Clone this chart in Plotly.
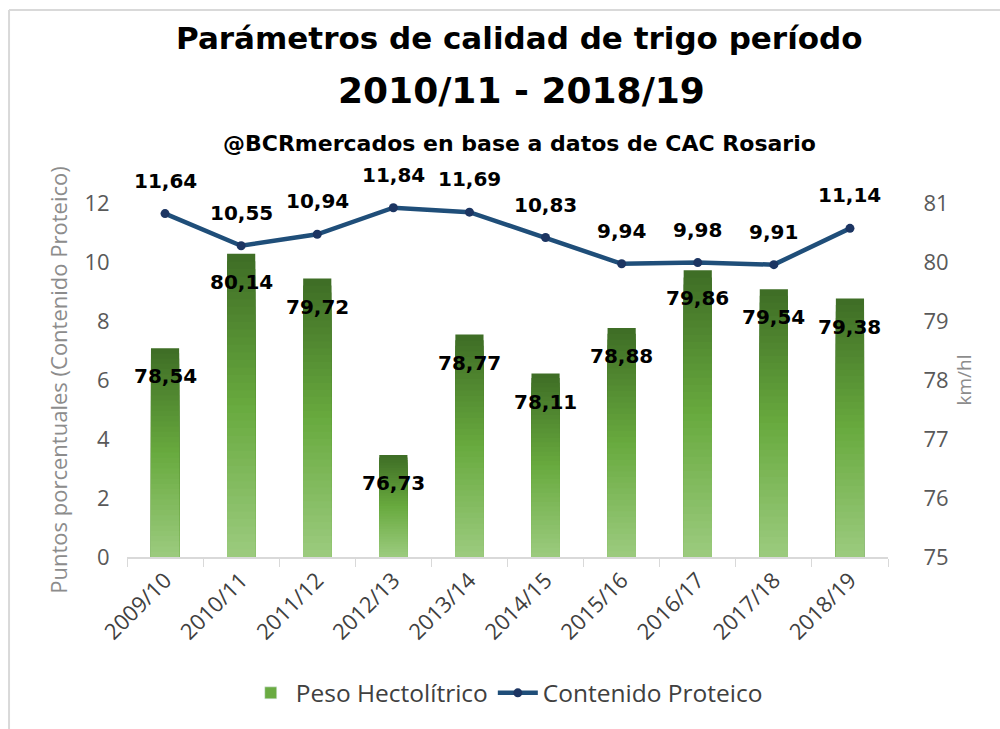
import plotly.graph_objects as go

categories = ["2009/10", "2010/11", "2011/12", "2012/13", "2013/14",
              "2014/15", "2015/16", "2016/17", "2017/18", "2018/19"]
peso_hectolitrico = [78.54, 80.14, 79.72, 76.73, 78.77, 78.11, 78.88, 79.86, 79.54, 79.38]
contenido_proteico = [11.64, 10.55, 10.94, 11.84, 11.69, 10.83, 9.94, 9.98, 9.91, 11.14]
left_ticks = [0, 2, 4, 6, 8, 10, 12]
right_ticks = [75, 76, 77, 78, 79, 80, 81]

RIGHT_MIN, RIGHT_MAX = 75, 81
LEFT_MIN, LEFT_MAX = 0, 12


def fmt(v):
    return f"{v:.2f}".replace(".", ",")


def hex_to_rgb(h):
    h = h.lstrip("#")
    return tuple(int(h[i:i + 2], 16) for i in (0, 2, 4))


# gradient stops: bottom -> top
stops = [(0.0, "#9ccb7f"), (0.5, "#68aa3e"), (1.0, "#3e6c25")]


def grad_color(t):
    for (t0, c0), (t1, c1) in zip(stops[:-1], stops[1:]):
        if t0 <= t <= t1:
            f = (t - t0) / (t1 - t0)
            a, b = hex_to_rgb(c0), hex_to_rgb(c1)
            r = [round(a[i] + (b[i] - a[i]) * f) for i in range(3)]
            return f"rgb({r[0]},{r[1]},{r[2]})"
    return stops[-1][1]


fig = go.Figure()

# legend entry for the bars
fig.add_trace(go.Bar(
    x=categories, y=[None] * len(categories), name="Peso Hectolítrico",
    marker=dict(color="#6aab42"), yaxis="y", showlegend=True,
))

N = 40
for k in range(N):
    frac = 1 - k / N
    mid = 1 - (k + 0.5) / N
    fig.add_trace(go.Bar(
        x=categories,
        y=[RIGHT_MIN + (v - RIGHT_MIN) * frac for v in peso_hectolitrico],
        marker=dict(color=grad_color(mid), line=dict(width=0)),
        yaxis="y", showlegend=False, hoverinfo="skip",
    ))

fig.add_trace(go.Scatter(
    x=categories, y=contenido_proteico, name="Contenido Proteico",
    mode="lines+markers", yaxis="y2",
    line=dict(color="#1f4e79", width=4.5),
    marker=dict(color="#1c3562", size=9),
))

annotations = []
for c, v in zip(categories, peso_hectolitrico):
    annotations.append(dict(
        x=c, y=v, xref="x", yref="y", text=fmt(v), showarrow=False,
        yshift=-28, font=dict(family="DejaVu Sans", size=20, color="#000000", weight="bold"),
    ))
for c, v in zip(categories, contenido_proteico):
    annotations.append(dict(
        x=c, y=v, xref="x", yref="y2", text=fmt(v), showarrow=False,
        yshift=33, font=dict(family="DejaVu Sans", size=20, color="#000000", weight="bold"),
    ))

annotations += [
    dict(text="<b>Parámetros de calidad de trigo período</b>", x=0.516, y=1.466,
         xref="paper", yref="paper", showarrow=False, xanchor="center", yanchor="middle",
         font=dict(family="DejaVu Sans", size=31, color="#000000")),
    dict(text="<b>2010/11 - 2018/19</b>", x=0.519, y=1.319,
         xref="paper", yref="paper", showarrow=False, xanchor="center", yanchor="middle",
         font=dict(family="DejaVu Sans", size=36, color="#000000")),
    dict(text="<b>@BCRmercados en base a datos de CAC Rosario</b>", x=0.516, y=1.169,
         xref="paper", yref="paper", showarrow=False, xanchor="center", yanchor="middle",
         font=dict(family="DejaVu Sans", size=22, color="#000000")),
]

fig.update_layout(
    width=1000, height=729,
    margin=dict(l=127, r=112, t=203, b=172, pad=0),
    paper_bgcolor="white", plot_bgcolor="white",
    barmode="overlay", bargap=0.63,
    annotations=annotations,
    xaxis=dict(
        type="category", range=[-0.5, len(categories) - 0.5],
        showline=True, linecolor="#d9d9d9", linewidth=1.5,
        ticks="outside", tickson="boundaries", ticklen=8, tickcolor="#d9d9d9",
        tickangle=-45, tickfont=dict(family="Open Sans", size=22, color="#404040"),
        showgrid=False, zeroline=False,
    ),
    yaxis=dict(
        side="right", range=[RIGHT_MIN, RIGHT_MAX], tickvals=right_ticks,
        ticks="outside", ticklen=30, tickcolor="rgba(0,0,0,0)",
        tickfont=dict(family="Open Sans", size=22, color="#595959"),
        showgrid=False, zeroline=False, showline=False,
        title=dict(text="km/hl", font=dict(family="Open Sans", size=19, color="#8c8c8c"), standoff=10),
    ),
    yaxis2=dict(
        overlaying="y", side="left", range=[LEFT_MIN, LEFT_MAX], tickvals=left_ticks,
        ticks="outside", ticklen=12, tickcolor="rgba(0,0,0,0)",
        tickfont=dict(family="Open Sans", size=22, color="#595959"),
        showgrid=False, zeroline=False, showline=False,
        title=dict(text="Puntos porcentuales (Contenido Proteico)",
                   font=dict(family="Open Sans", size=22, color="#8c8c8c"), standoff=10),
    ),
    legend=dict(
        orientation="h", x=0.499, xanchor="center", y=-0.384, yanchor="middle",
        font=dict(family="Open Sans", size=24.5, color="#404040"),
        bgcolor="rgba(0,0,0,0)", itemwidth=40,
    ),
    shapes=[
        dict(type="line", xref="paper", yref="paper", x0=-0.155, x1=1.3, y0=1.545, y1=1.545,
             line=dict(color="#d9d9d9", width=2)),
        dict(type="line", xref="paper", yref="paper", x0=-0.155, x1=-0.155, y0=1.545, y1=-0.6,
             line=dict(color="#d9d9d9", width=2)),
    ],
)

fig.write_html("out.html", config={"displayModeBar": False},
               post_script="document.body.style.margin='0px';")
